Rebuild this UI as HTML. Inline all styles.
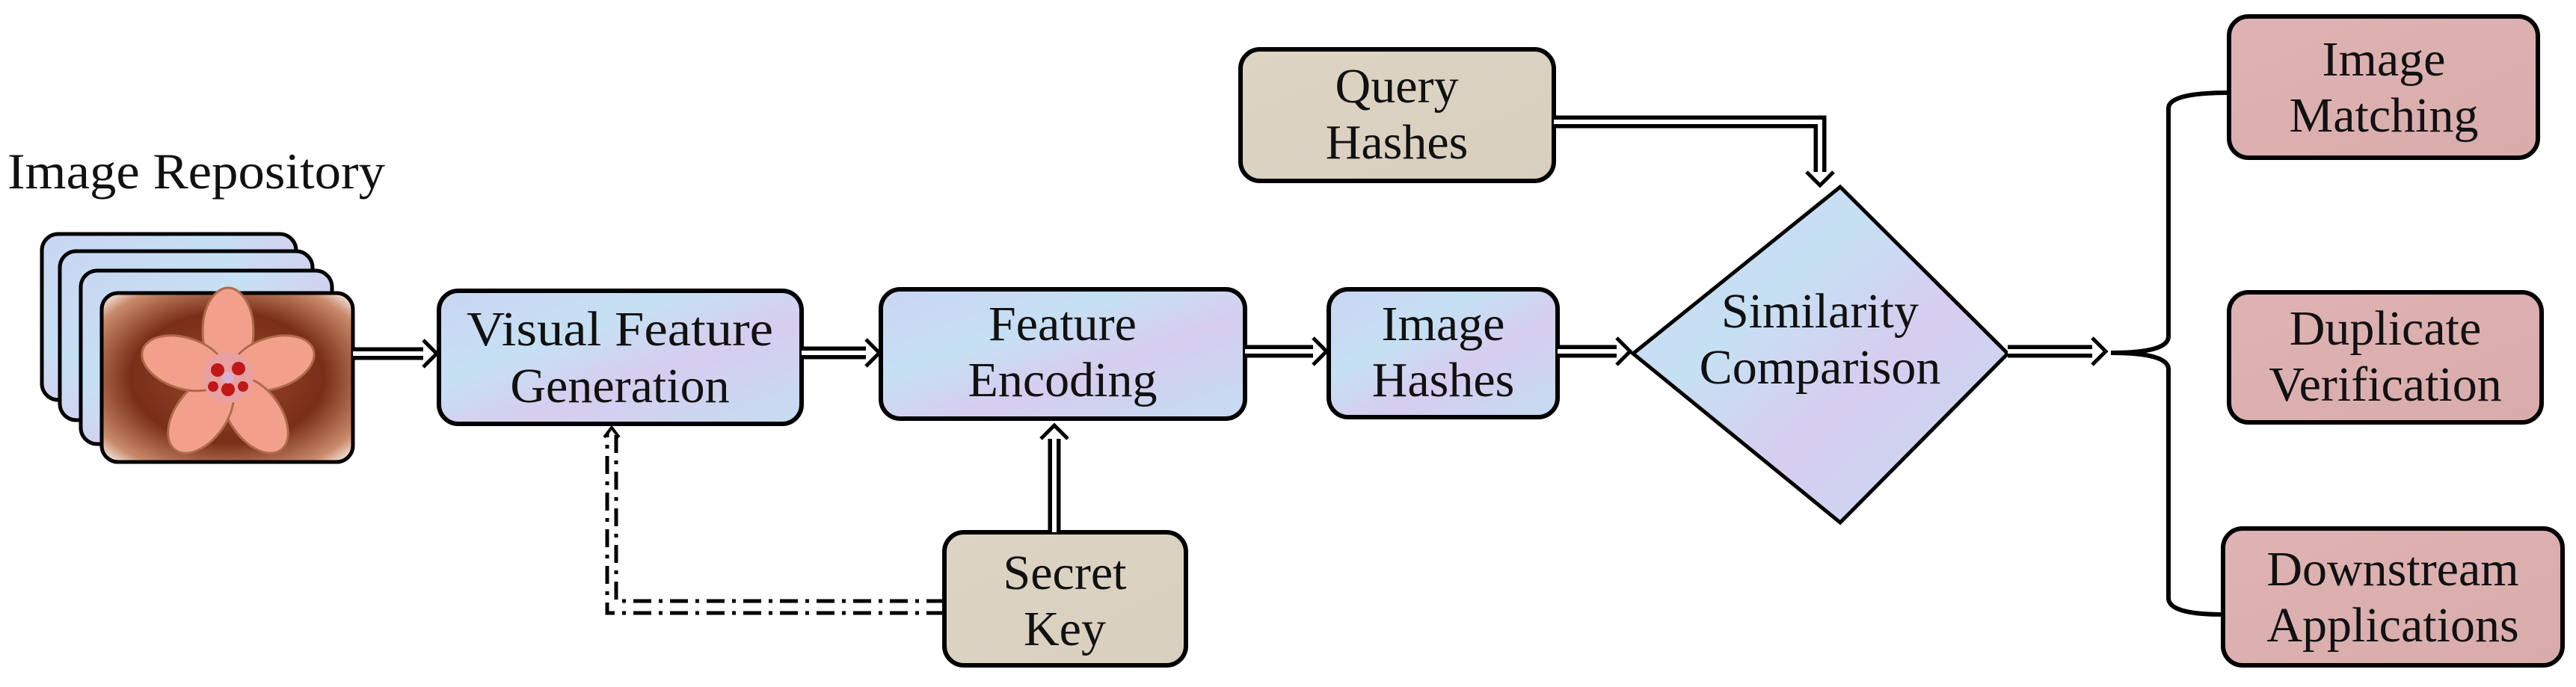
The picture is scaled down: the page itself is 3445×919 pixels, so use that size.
<!DOCTYPE html>
<html><head><meta charset="utf-8"><style>
html,body{margin:0;padding:0;background:#fff;width:3445px;height:919px;overflow:hidden}
svg text{font-family:"Liberation Serif",serif;fill:#111}
</style></head><body>
<svg width="3445" height="919" viewBox="0 0 3445 919" xmlns="http://www.w3.org/2000/svg">
<defs>
<linearGradient id="blue" x1="0" y1="0" x2="1" y2="1">
<stop offset="0" stop-color="#c9d6f3"/><stop offset="0.35" stop-color="#c6e0f3"/><stop offset="0.6" stop-color="#d6cdef"/><stop offset="1" stop-color="#c4ddf2"/></linearGradient>
<linearGradient id="beige" x1="0" y1="0" x2="1" y2="1"><stop offset="0" stop-color="#ddd4c4"/><stop offset="1" stop-color="#d8cfbf"/></linearGradient>
<linearGradient id="pink" x1="0" y1="0" x2="1" y2="1"><stop offset="0" stop-color="#dfb3b3"/><stop offset="1" stop-color="#d9acac"/></linearGradient>
<radialGradient id="photo" cx="0.5" cy="0.5" r="0.7"><stop offset="0" stop-color="#9a4a2c"/><stop offset="0.55" stop-color="#7a2e18"/><stop offset="0.85" stop-color="#c98a6a"/><stop offset="1" stop-color="#ffffff"/></radialGradient>
</defs>

<text x="10" y="252" font-size="68" textLength="505" lengthAdjust="spacingAndGlyphs">Image Repository</text>
<rect x="56" y="313" width="340" height="222" rx="22" fill="url(#blue)" stroke="#000" stroke-width="5"/>
<rect x="80" y="336" width="338" height="226" rx="22" fill="url(#blue)" stroke="#000" stroke-width="5"/>
<rect x="108" y="362" width="336" height="232" rx="22" fill="url(#blue)" stroke="#000" stroke-width="5"/>
<rect x="136" y="392" width="336" height="226" rx="22" fill="url(#photo)" stroke="#000" stroke-width="5"/>
<g transform="translate(305,505)">
<g fill="#f2a08c" stroke="#b06a4a" stroke-width="3">
<ellipse cx="0" cy="-62" rx="34" ry="58"/>
<ellipse cx="0" cy="-62" rx="34" ry="58" transform="rotate(72)"/>
<ellipse cx="0" cy="-62" rx="34" ry="58" transform="rotate(144)"/>
<ellipse cx="0" cy="-62" rx="34" ry="58" transform="rotate(216)"/>
<ellipse cx="0" cy="-62" rx="34" ry="58" transform="rotate(288)"/>
</g>
<circle r="34" fill="#e8a0a0"/>
<circle cx="-14" cy="-10" r="9" fill="#c01818"/><circle cx="14" cy="-12" r="9" fill="#c01818"/>
<circle cx="0" cy="16" r="9" fill="#c01818"/><circle cx="-20" cy="12" r="7" fill="#c01818"/><circle cx="20" cy="12" r="7" fill="#c01818"/>
<circle r="8" fill="#d8b0d0"/>
</g>

<g font-size="66">
<rect x="587" y="389" width="485" height="178" rx="26" fill="url(#blue)" stroke="#000" stroke-width="6"/>
<text x="829" y="462" text-anchor="middle" textLength="410" lengthAdjust="spacingAndGlyphs">Visual Feature</text>
<text x="829" y="538" text-anchor="middle">Generation</text>

<rect x="1178" y="387" width="487" height="173" rx="26" fill="url(#blue)" stroke="#000" stroke-width="6"/>
<text x="1421" y="455" text-anchor="middle">Feature</text>
<text x="1421" y="530" text-anchor="middle">Encoding</text>

<rect x="1777" y="387" width="306" height="171" rx="26" fill="url(#blue)" stroke="#000" stroke-width="6"/>
<text x="1930" y="455" text-anchor="middle">Image</text>
<text x="1930" y="530" text-anchor="middle">Hashes</text>

<polygon points="2461,250 2685,473 2461,699 2184,473" fill="url(#blue)" stroke="#000" stroke-width="5"/>
<text x="2434" y="438" text-anchor="middle">Similarity</text>
<text x="2434" y="513" text-anchor="middle">Comparison</text>

<rect x="1659" y="66" width="419" height="176" rx="26" fill="url(#beige)" stroke="#000" stroke-width="6"/>
<text x="1868" y="137" text-anchor="middle">Query</text>
<text x="1868" y="212" text-anchor="middle">Hashes</text>

<rect x="1263" y="712" width="323" height="178" rx="26" fill="url(#beige)" stroke="#000" stroke-width="6"/>
<text x="1424" y="788" text-anchor="middle">Secret</text>
<text x="1424" y="863" text-anchor="middle">Key</text>

<rect x="2981" y="22" width="413" height="189" rx="26" fill="url(#pink)" stroke="#000" stroke-width="6"/>
<text x="3188" y="101" text-anchor="middle">Image</text>
<text x="3188" y="176" text-anchor="middle">Matching</text>

<rect x="2981" y="391" width="418" height="174" rx="26" fill="url(#pink)" stroke="#000" stroke-width="6"/>
<text x="3190" y="461" text-anchor="middle">Duplicate</text>
<text x="3190" y="536" text-anchor="middle">Verification</text>

<rect x="2973" y="707" width="454" height="183" rx="26" fill="url(#pink)" stroke="#000" stroke-width="6"/>
<text x="3200" y="783" text-anchor="middle">Downstream</text>
<text x="3200" y="858" text-anchor="middle">Applications</text>
</g>

<g fill="none" stroke-linejoin="miter">
<path d="M472,473 H568" stroke="#000" stroke-width="17"/><path d="M472,473 H570" stroke="#fff" stroke-width="6"/>
<path d="M566,455 L584,473 L566,491" stroke="#000" stroke-width="5" fill="#fff"/>
<path d="M1072,472 H1160" stroke="#000" stroke-width="17"/><path d="M1072,472 H1162" stroke="#fff" stroke-width="6"/>
<path d="M1158,454 L1176,472 L1158,490" stroke="#000" stroke-width="5" fill="#fff"/>
<path d="M1665,470 H1758" stroke="#000" stroke-width="17"/><path d="M1665,470 H1760" stroke="#fff" stroke-width="6"/>
<path d="M1756,452 L1774,470 L1756,488" stroke="#000" stroke-width="5" fill="#fff"/>
<path d="M2083,470 H2164" stroke="#000" stroke-width="17"/><path d="M2083,470 H2166" stroke="#fff" stroke-width="6"/>
<path d="M2162,452 L2180,470 L2162,488" stroke="#000" stroke-width="5" fill="#fff"/>
<path d="M2685,470 H2800" stroke="#000" stroke-width="17"/><path d="M2685,470 H2802" stroke="#fff" stroke-width="6"/>
<path d="M2798,452 L2816,470 L2798,488" stroke="#000" stroke-width="5" fill="#fff"/>
<path d="M2078,163 H2434 V232" stroke="#000" stroke-width="17"/>
<path d="M2078,163 H2434 V236" stroke="#fff" stroke-width="6"/>
<path d="M2416,230 L2434,248 L2452,230" stroke="#000" stroke-width="5" fill="#fff"/>
<path d="M1410,712 V585" stroke="#000" stroke-width="17"/><path d="M1410,712 V583" stroke="#fff" stroke-width="6"/>
<path d="M1392,587 L1410,569 L1428,587" stroke="#000" stroke-width="5" fill="#fff"/>
<path d="M1263,804 H824 V580" stroke="#000" stroke-width="5" stroke-dasharray="24,10,5,10"/>
<path d="M1263,820 H812 V580" stroke="#000" stroke-width="5" stroke-dasharray="24,10,5,10"/>
<path d="M808,585 L818,572 L828,585" stroke="#000" stroke-width="4"/>
<path d="M2823,472 Q2900,472 2900,450 V145 Q2900,124 2981,124" stroke="#000" stroke-width="6"/>
<path d="M2823,472 Q2900,472 2900,494 V800 Q2900,822 2973,822" stroke="#000" stroke-width="6"/>
</g>
</svg>
</body></html>
